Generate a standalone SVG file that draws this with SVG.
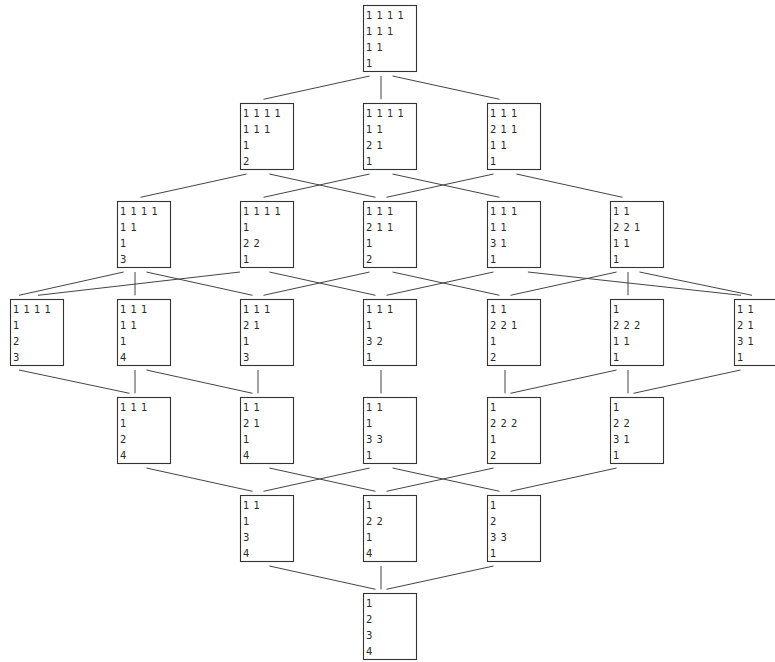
<svg xmlns="http://www.w3.org/2000/svg" width="775" height="662" viewBox="0 0 775 662">
<style>
rect.n{fill:#fff;stroke:#333;stroke-width:1.1}
text{font-family:"DejaVu Sans","Liberation Sans",sans-serif;font-size:10px;fill:#2a2a2a;word-spacing:1px}
#edges line{stroke:#444;stroke-width:1}
</style>
<rect width="775" height="662" fill="#fff"/>
<g id="edges">
<line x1="369.6" y1="76" x2="263.5" y2="99.3"/>
<line x1="381" y1="76" x2="381" y2="99.3"/>
<line x1="392.5" y1="76" x2="499.5" y2="99.3"/>
<line x1="246.6" y1="174" x2="140.5" y2="197.3"/>
<line x1="269.4" y1="174" x2="375.5" y2="197.3"/>
<line x1="369.6" y1="174" x2="263.5" y2="197.3"/>
<line x1="392.5" y1="174" x2="499.5" y2="197.3"/>
<line x1="493.5" y1="174" x2="386.5" y2="197.3"/>
<line x1="516.4" y1="174" x2="622.5" y2="197.3"/>
<line x1="123.6" y1="272" x2="19" y2="295.3"/>
<line x1="135" y1="272" x2="135" y2="295.3"/>
<line x1="146.4" y1="272" x2="252.5" y2="295.3"/>
<line x1="240" y1="272" x2="38" y2="295.3"/>
<line x1="269.4" y1="272" x2="375.5" y2="295.3"/>
<line x1="369.6" y1="272" x2="263.5" y2="295.3"/>
<line x1="392.5" y1="272" x2="499.5" y2="295.3"/>
<line x1="493.5" y1="272" x2="386.5" y2="295.3"/>
<line x1="527.9" y1="272" x2="741" y2="295.3"/>
<line x1="616.6" y1="272" x2="510.5" y2="295.3"/>
<line x1="628" y1="272" x2="628" y2="295.3"/>
<line x1="639.5" y1="272" x2="752" y2="295.3"/>
<line x1="19" y1="370" x2="129.5" y2="393.3"/>
<line x1="135" y1="370" x2="135" y2="393.3"/>
<line x1="146.4" y1="370" x2="252.5" y2="393.3"/>
<line x1="258" y1="370" x2="258" y2="393.3"/>
<line x1="381" y1="370" x2="381" y2="393.3"/>
<line x1="505" y1="370" x2="505" y2="393.3"/>
<line x1="616.6" y1="370" x2="510.5" y2="393.3"/>
<line x1="628" y1="370" x2="628" y2="393.3"/>
<line x1="740.5" y1="370" x2="633.5" y2="393.3"/>
<line x1="146.4" y1="468" x2="252.5" y2="491.3"/>
<line x1="269.4" y1="468" x2="375.5" y2="491.3"/>
<line x1="369.6" y1="468" x2="263.5" y2="491.3"/>
<line x1="392.5" y1="468" x2="499.5" y2="491.3"/>
<line x1="493.5" y1="468" x2="386.5" y2="491.3"/>
<line x1="616.6" y1="468" x2="510.5" y2="491.3"/>
<line x1="269.4" y1="566" x2="375.5" y2="589.3"/>
<line x1="381" y1="566" x2="381" y2="589.3"/>
<line x1="493.5" y1="566" x2="386.5" y2="589.3"/>
</g>
<g id="A"><rect class="n" x="363.5" y="5.5" width="53" height="66"/><text><tspan x="366" y="18.5">1 1 1 1</tspan><tspan x="366" y="34.5">1 1 1</tspan><tspan x="366" y="50.5">1 1</tspan><tspan x="366" y="66.5">1</tspan></text></g>
<g id="B1"><rect class="n" x="240.5" y="103.5" width="53" height="66"/><text><tspan x="243" y="116.5">1 1 1 1</tspan><tspan x="243" y="132.5">1 1 1</tspan><tspan x="243" y="148.5">1</tspan><tspan x="243" y="164.5">2</tspan></text></g>
<g id="B2"><rect class="n" x="363.5" y="103.5" width="53" height="66"/><text><tspan x="366" y="116.5">1 1 1 1</tspan><tspan x="366" y="132.5">1 1</tspan><tspan x="366" y="148.5">2 1</tspan><tspan x="366" y="164.5">1</tspan></text></g>
<g id="B3"><rect class="n" x="487.5" y="103.5" width="53" height="66"/><text><tspan x="490" y="116.5">1 1 1</tspan><tspan x="490" y="132.5">2 1 1</tspan><tspan x="490" y="148.5">1 1</tspan><tspan x="490" y="164.5">1</tspan></text></g>
<g id="C1"><rect class="n" x="117.5" y="201.5" width="53" height="66"/><text><tspan x="120" y="214.5">1 1 1 1</tspan><tspan x="120" y="230.5">1 1</tspan><tspan x="120" y="246.5">1</tspan><tspan x="120" y="262.5">3</tspan></text></g>
<g id="C2"><rect class="n" x="240.5" y="201.5" width="53" height="66"/><text><tspan x="243" y="214.5">1 1 1 1</tspan><tspan x="243" y="230.5">1</tspan><tspan x="243" y="246.5">2 2</tspan><tspan x="243" y="262.5">1</tspan></text></g>
<g id="C3"><rect class="n" x="363.5" y="201.5" width="53" height="66"/><text><tspan x="366" y="214.5">1 1 1</tspan><tspan x="366" y="230.5">2 1 1</tspan><tspan x="366" y="246.5">1</tspan><tspan x="366" y="262.5">2</tspan></text></g>
<g id="C4"><rect class="n" x="487.5" y="201.5" width="53" height="66"/><text><tspan x="490" y="214.5">1 1 1</tspan><tspan x="490" y="230.5">1 1</tspan><tspan x="490" y="246.5">3 1</tspan><tspan x="490" y="262.5">1</tspan></text></g>
<g id="C5"><rect class="n" x="610.5" y="201.5" width="53" height="66"/><text><tspan x="613" y="214.5">1 1</tspan><tspan x="613" y="230.5">2 2 1</tspan><tspan x="613" y="246.5">1 1</tspan><tspan x="613" y="262.5">1</tspan></text></g>
<g id="D1"><rect class="n" x="10.5" y="299.5" width="53" height="66"/><text><tspan x="13" y="312.5">1 1 1 1</tspan><tspan x="13" y="328.5">1</tspan><tspan x="13" y="344.5">2</tspan><tspan x="13" y="360.5">3</tspan></text></g>
<g id="D2"><rect class="n" x="117.5" y="299.5" width="53" height="66"/><text><tspan x="120" y="312.5">1 1 1</tspan><tspan x="120" y="328.5">1 1</tspan><tspan x="120" y="344.5">1</tspan><tspan x="120" y="360.5">4</tspan></text></g>
<g id="D3"><rect class="n" x="240.5" y="299.5" width="53" height="66"/><text><tspan x="243" y="312.5">1 1 1</tspan><tspan x="243" y="328.5">2 1</tspan><tspan x="243" y="344.5">1</tspan><tspan x="243" y="360.5">3</tspan></text></g>
<g id="D4"><rect class="n" x="363.5" y="299.5" width="53" height="66"/><text><tspan x="366" y="312.5">1 1 1</tspan><tspan x="366" y="328.5">1</tspan><tspan x="366" y="344.5">3 2</tspan><tspan x="366" y="360.5">1</tspan></text></g>
<g id="D5"><rect class="n" x="487.5" y="299.5" width="53" height="66"/><text><tspan x="490" y="312.5">1 1</tspan><tspan x="490" y="328.5">2 2 1</tspan><tspan x="490" y="344.5">1</tspan><tspan x="490" y="360.5">2</tspan></text></g>
<g id="D6"><rect class="n" x="610.5" y="299.5" width="53" height="66"/><text><tspan x="613" y="312.5">1</tspan><tspan x="613" y="328.5">2 2 2</tspan><tspan x="613" y="344.5">1 1</tspan><tspan x="613" y="360.5">1</tspan></text></g>
<g id="D7"><rect class="n" x="734.5" y="299.5" width="53" height="66"/><text><tspan x="737" y="312.5">1 1</tspan><tspan x="737" y="328.5">2 1</tspan><tspan x="737" y="344.5">3 1</tspan><tspan x="737" y="360.5">1</tspan></text></g>
<g id="E1"><rect class="n" x="117.5" y="397.5" width="53" height="66"/><text><tspan x="120" y="410.5">1 1 1</tspan><tspan x="120" y="426.5">1</tspan><tspan x="120" y="442.5">2</tspan><tspan x="120" y="458.5">4</tspan></text></g>
<g id="E2"><rect class="n" x="240.5" y="397.5" width="53" height="66"/><text><tspan x="243" y="410.5">1 1</tspan><tspan x="243" y="426.5">2 1</tspan><tspan x="243" y="442.5">1</tspan><tspan x="243" y="458.5">4</tspan></text></g>
<g id="E3"><rect class="n" x="363.5" y="397.5" width="53" height="66"/><text><tspan x="366" y="410.5">1 1</tspan><tspan x="366" y="426.5">1</tspan><tspan x="366" y="442.5">3 3</tspan><tspan x="366" y="458.5">1</tspan></text></g>
<g id="E4"><rect class="n" x="487.5" y="397.5" width="53" height="66"/><text><tspan x="490" y="410.5">1</tspan><tspan x="490" y="426.5">2 2 2</tspan><tspan x="490" y="442.5">1</tspan><tspan x="490" y="458.5">2</tspan></text></g>
<g id="E5"><rect class="n" x="610.5" y="397.5" width="53" height="66"/><text><tspan x="613" y="410.5">1</tspan><tspan x="613" y="426.5">2 2</tspan><tspan x="613" y="442.5">3 1</tspan><tspan x="613" y="458.5">1</tspan></text></g>
<g id="F1"><rect class="n" x="240.5" y="495.5" width="53" height="66"/><text><tspan x="243" y="508.5">1 1</tspan><tspan x="243" y="524.5">1</tspan><tspan x="243" y="540.5">3</tspan><tspan x="243" y="556.5">4</tspan></text></g>
<g id="F2"><rect class="n" x="363.5" y="495.5" width="53" height="66"/><text><tspan x="366" y="508.5">1</tspan><tspan x="366" y="524.5">2 2</tspan><tspan x="366" y="540.5">1</tspan><tspan x="366" y="556.5">4</tspan></text></g>
<g id="F3"><rect class="n" x="487.5" y="495.5" width="53" height="66"/><text><tspan x="490" y="508.5">1</tspan><tspan x="490" y="524.5">2</tspan><tspan x="490" y="540.5">3 3</tspan><tspan x="490" y="556.5">1</tspan></text></g>
<g id="G"><rect class="n" x="363.5" y="593.5" width="53" height="66"/><text><tspan x="366" y="606.5">1</tspan><tspan x="366" y="622.5">2</tspan><tspan x="366" y="638.5">3</tspan><tspan x="366" y="654.5">4</tspan></text></g>
</svg>
